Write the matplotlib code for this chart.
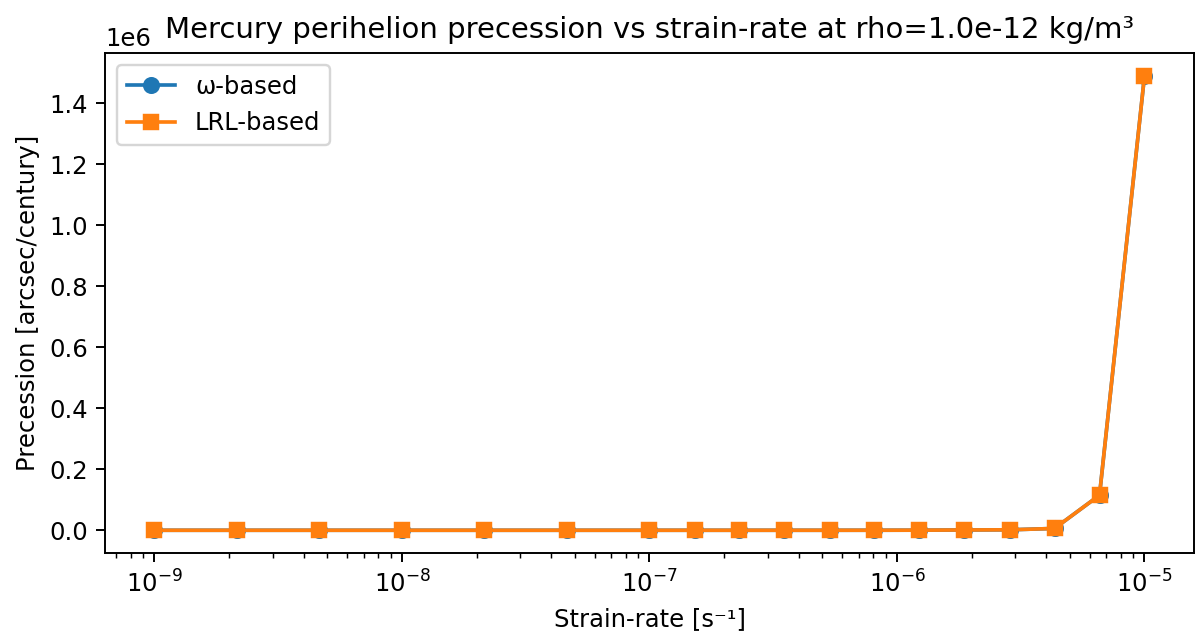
import matplotlib.pyplot as plt

# strain-rate grid [1/s]
strain_rate = [
    1.0e-9, 2.15e-9, 4.64e-9, 1.0e-8, 2.15e-8, 4.64e-8,
    1.0e-7, 1.52e-7, 2.31e-7, 3.51e-7, 5.34e-7, 8.11e-7,
    1.23e-6, 1.87e-6, 2.85e-6, 4.33e-6, 6.58e-6, 1.0e-5,
]

# precession [arcsec/century]
prec_omega = [
    0.0, 0.0, 0.0, 0.0, 0.0, 0.0,
    0.0, 0.0, 0.0, 5.0, 20.0, 80.0,
    300.0, 1000.0, 1500.0, 6000.0, 115000.0, 1490000.0,
]
prec_lrl = [
    0.0, 0.0, 0.0, 0.0, 0.0, 0.0,
    0.0, 0.0, 0.0, 5.0, 20.0, 80.0,
    300.0, 1000.0, 1500.0, 6000.0, 115000.0, 1490000.0,
]

rho = 1.0e-12

DPI = 175
fig = plt.figure(figsize=(1196 / DPI, 636 / DPI), dpi=DPI)
ax = fig.add_axes([105 / 1196, 1 - 553 / 636, (1194 - 105) / 1196, (553 - 53) / 636])

ax.plot(strain_rate, prec_omega, marker="o", label="ω-based")
ax.plot(strain_rate, prec_lrl, marker="s", label="LRL-based")
ax.set_xscale("log")

ax.set_xlabel("Strain-rate [s⁻¹]")
ax.set_ylabel("Precession [arcsec/century]")
ax.set_title(f"Mercury perihelion precession vs strain-rate at rho={rho:.1e} kg/m³")
ax.legend(loc="upper left")

fig.savefig("out.png", dpi=DPI)
